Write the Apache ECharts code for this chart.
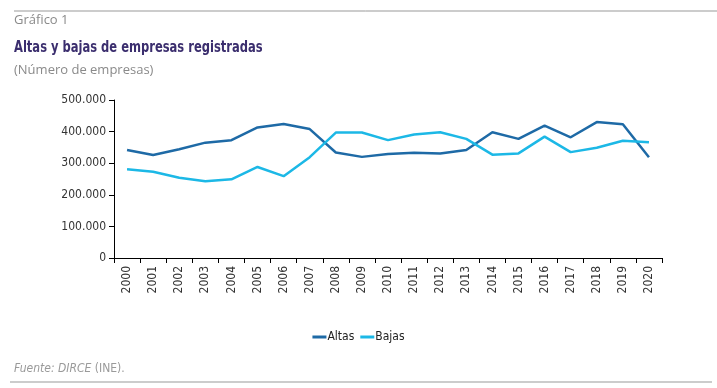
<!DOCTYPE html>
<html><head><meta charset="utf-8">
<script src="https://cdn.jsdelivr.net/npm/echarts@6/dist/echarts.min.js"></script>
<style>html,body{margin:0;padding:0;background:#fff}#c{width:717px;height:388px}</style>
</head><body><div id="c"></div>
<script>
const years = ['2000','2001','2002','2003','2004','2005','2006','2007','2008','2009','2010','2011','2012','2013','2014','2015','2016','2017','2018','2019','2020'];
const altas = [342000,326000,344000,365000,373000,413000,424000,408000,334000,320000,329000,333000,331000,342000,398000,377000,419000,382000,430000,423000,319000];
const bajas = [281000,273000,254000,243000,249000,288000,259000,319000,397000,397000,373000,391000,398000,377000,327000,331000,384000,335000,349000,371000,366000];
const yTicks = [0,100000,200000,300000,400000,500000];

const chart = echarts.init(document.getElementById('c'));
const fmt = v => v === 0 ? '0' : String(v).replace(/\B(?=(\d{3})+(?!\d))/g, '.');
chart.setOption({
  animation: false,
  textStyle: {fontFamily: 'DejaVu Sans Condensed, sans-serif'},
  grid: {left: 114, right: 55, top: 100, bottom: 130},
  legend: {
    data: ['Altas','Bajas'], top: 326, left: 'center', itemWidth: 14, itemHeight: 3, itemGap: 6,
    icon: 'rect',
    textStyle: {fontSize: 12, color: '#222', fontFamily: 'DejaVu Sans Condensed, sans-serif', padding: [0,0,0,-4]}
  },
  xAxis: {
    type: 'category', data: years, boundaryGap: true,
    axisLine: {lineStyle: {color: '#000', width: 1}},
    axisTick: {show: true, alignWithLabel: false, length: 5, lineStyle: {color: '#000'}},
    axisLabel: {rotate: 90, fontSize: 12, color: '#333', margin: 8}
  },
  yAxis: {
    type: 'value', min: 0, max: 500000, interval: 100000,
    splitLine: {show: false},
    axisLine: {show: true, lineStyle: {color: '#000'}},
    axisTick: {show: true, length: 5, lineStyle: {color: '#000'}},
    axisLabel: {fontSize: 12, color: '#333', margin: 8, formatter: fmt}
  },
  series: [
    {name: 'Altas', type: 'line', data: altas, symbol: 'none', lineStyle: {width: 2.5, color: '#1e6aa6'}, itemStyle: {color: '#1e6aa6'}},
    {name: 'Bajas', type: 'line', data: bajas, symbol: 'none', lineStyle: {width: 2.5, color: '#1cb8e6'}, itemStyle: {color: '#1cb8e6'}}
  ],
  graphic: [
    {type: 'line', shape: {x1: 14, y1: 11, x2: 717, y2: 11}, style: {stroke: '#999', lineWidth: 1}},
    {type: 'text', x: 14, y: 14, style: {text: 'Gráfico 1', fontSize: 13, fill: '#8a8a8a', fontFamily: 'Open Sans, sans-serif'}},
    {type: 'text', x: 14, y: 40, scaleX: 0.8, style: {text: 'Altas y bajas de empresas registradas', fontSize: 16, fontWeight: 'bold', fill: '#3b2e6e', fontFamily: 'DejaVu Sans Condensed, sans-serif'}},
    {type: 'text', x: 14, y: 64, style: {text: '(Número de empresas)', fontSize: 13, fill: '#8a8a8a', fontFamily: 'Open Sans, sans-serif'}},
    {type: 'text', x: 14, y: 363, style: {
      rich: {
        i: {fontSize: 12, fontStyle: 'italic', fill: '#9a9a9a', fontFamily: 'DejaVu Sans Condensed, sans-serif'},
        n: {fontSize: 12, fill: '#9a9a9a', fontFamily: 'DejaVu Sans Condensed, sans-serif'}
      },
      text: '{i|Fuente: DIRCE }{n|(INE).}'
    }},
    {type: 'line', shape: {x1: 10, y1: 382, x2: 712, y2: 382}, style: {stroke: '#999', lineWidth: 1}}
  ]
});
</script>
</body></html>
